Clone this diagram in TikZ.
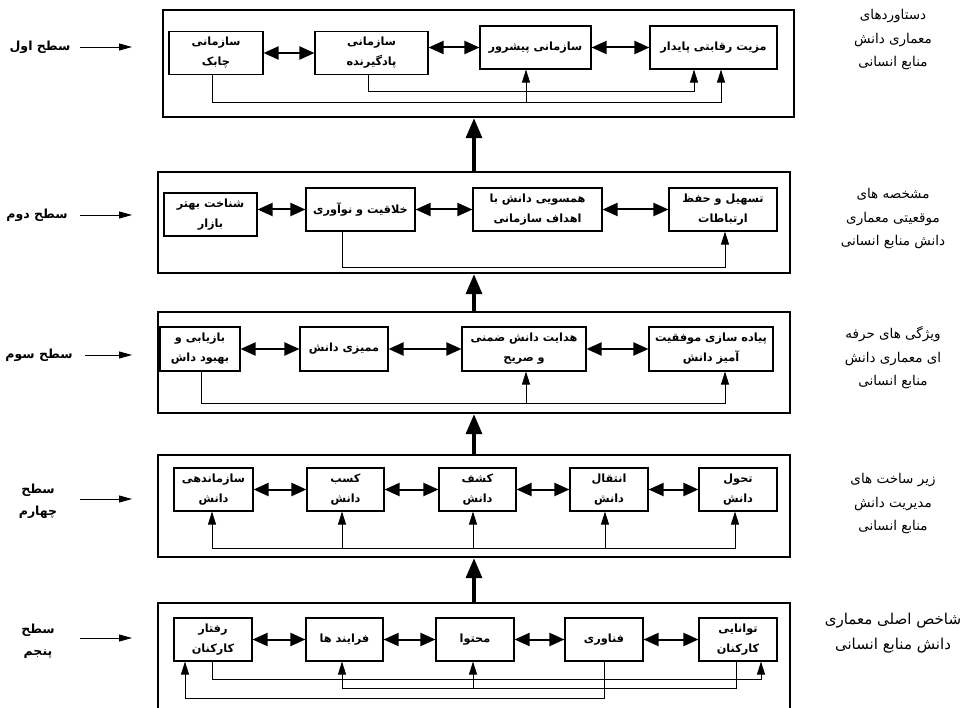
\documentclass[tikz,border=0pt]{standalone}
\usepackage{fontspec}
\newfontfamily\fafont[Script=Arabic]{DejaVu Sans}
\TeXXeTstate=1
\newcommand{\rl}[1]{\beginR #1\endR}
\usetikzlibrary{arrows.meta}

\begin{document}
\begin{tikzpicture}[
		x=1pt, y=-1pt,
		every node/.style={font=\fafont\fontsize{13.5}{23.5}\selectfont, align=center},
		box/.style={draw, line width=1.1pt, minimum height=43, inner sep=1pt, font=\fafont\bfseries\fontsize{11.3}{20}\selectfont},
		tier/.style={draw, line width=2.4pt, minimum width=632},
		tag/.style={font=\fafont\bfseries\fontsize{12.5}{22}\selectfont},
		link/.style={{Triangle[length=15pt,width=13pt]}-{Triangle[length=15pt,width=13pt]}, line width=2pt},
		feed/.style={-{Triangle[length=13pt,width=8pt]}, line width=0.8pt},
		lift/.style={-{Triangle[length=20pt,width=16pt]}, line width=3.5pt},
		side/.style={-{Triangle[length=13pt,width=7pt]}, line width=0.8pt}
		]
		\useasboundingbox (0,0) rectangle (976,708);
		
		% Level frames
		\node[tier, minimum width=631, minimum height=107] (tier1) at (478.5,63.5) {};
		\node[tier, minimum height=101] (tier2) at (474,222.5) {};
		\node[tier, minimum height=101] (tier3) at (474,362.5) {};
		\node[tier, minimum height=102] (tier4) at (474,506) {};
		\node[tier, minimum height=109] (tier5) at (474,657.5) {};
		
		% Level 1
		\node[box, minimum width=94] (agile) at (216,53) {\rl{سازمانی}\\\rl{چابک}};
		\node[box, minimum width=113] (learning) at (371.5,53) {\rl{سازمانی}\\\rl{پادگیرنده}};
		\node[box, minimum width=111] (pioneer) at (535.5,47.5) {\rl{سازمانی پیشرور}};
		\node[box, minimum width=127] (advantage) at (713.5,47.5) {\rl{مزیت رقابتی پایدار}};
		\draw[link] (agile) -- (learning);
		\draw[link] (pioneer.west -| learning.east) -- (pioneer.west);
		\draw[link] (pioneer) -- (advantage);
		\draw[feed] ([xshift=-4pt]agile.south) -- ++(0,27) -| ([xshift=7.5pt]advantage.south);
		\draw[feed] ([xshift=-9.5pt]pioneer.south) ++(0,33) -- ([xshift=-9.5pt]pioneer.south);
		\draw[feed] ([xshift=-3.5pt]learning.south) -- ++(0,16) -| ([xshift=-19.5pt]advantage.south);
		
		% Level 2
		\node[box, minimum width=93] (market) at (210.5,214.5) {\rl{شناخت بهتر}\\\rl{بازار}};
		\node[box, minimum width=109] (creativity) at (360.5,209.5) {\rl{خلاقیت و نوآوری}};
		\node[box, minimum width=129] (alignment) at (537.5,209.5) {\rl{همسویی دانش با}\\\rl{اهداف سازمانی}};
		\node[box, minimum width=108] (facilitation) at (723,209.5) {\rl{تسهیل و حفظ}\\\rl{ارتباطات}};
		\draw[link] (creativity.west -| market.east) -- (creativity.west);
		\draw[link] (creativity) -- (alignment);
		\draw[link] (alignment) -- (facilitation);
		\draw[feed] ([xshift=-18.5pt]creativity.south) -- ++(0,36) -| ([xshift=2pt]facilitation.south);
		
		% Level 3
		\node[box, minimum width=80, minimum height=44] (retrieval) at (200,349) {\rl{بازیابی و}\\\rl{بهبود داش}};
		\node[box, minimum width=88, minimum height=44] (audit) at (344,349) {\rl{ممیزی دانش}};
		\node[box, minimum width=124, minimum height=44] (guidance) at (524,349) {\rl{هدایت دانش ضمنی}\\\rl{و صریح}};
		\node[box, minimum width=124, minimum height=44] (implementation) at (711,349) {\rl{پیاده سازی موفقیت}\\\rl{آمیز دانش}};
		\draw[link] (retrieval) -- (audit);
		\draw[link] (audit) -- (guidance);
		\draw[link] (guidance) -- (implementation);
		\draw[feed] ([xshift=1pt]retrieval.south) -- ++(0,32) -| ([xshift=14pt]implementation.south);
		\draw[feed] ([xshift=2pt]guidance.south) ++(0,32) -- ([xshift=2pt]guidance.south);
		
		% Level 4
		\node[box, minimum width=79] (organize) at (213.5,489.5) {\rl{سازماندهی}\\\rl{دانش}};
		\node[box, minimum width=77] (acquire) at (345.5,489.5) {\rl{کسب}\\\rl{دانش}};
		\node[box, minimum width=77] (discover) at (477.5,489.5) {\rl{کشف}\\\rl{دانش}};
		\node[box, minimum width=78] (transfer) at (609,489.5) {\rl{انتقال}\\\rl{دانش}};
		\node[box, minimum width=78] (transform) at (738,489.5) {\rl{تحول}\\\rl{دانش}};
		\draw[link] (organize) -- (acquire);
		\draw[link] (acquire) -- (discover);
		\draw[link] (discover) -- (transfer);
		\draw[link] (transfer) -- (transform);
		\draw[feed] ([xshift=-3pt]transform.south) ++(0,37) -| ([xshift=-1.5pt]organize.south);
		\draw[feed] ([xshift=-3pt]transform.south) ++(0,37) -- ([xshift=-3pt]transform.south);
		\draw[feed] ([xshift=-3.5pt]acquire.south) ++(0,37) -- ([xshift=-3.5pt]acquire.south);
		\draw[feed] ([xshift=-4.5pt]discover.south) ++(0,37) -- ([xshift=-4.5pt]discover.south);
		\draw[feed] ([xshift=-4pt]transfer.south) ++(0,37) -- ([xshift=-4pt]transfer.south);
		
		% Level 5
		\node[box, minimum width=78] (behaviour) at (213,639.5) {\rl{رفتار}\\\rl{کارکنان}};
		\node[box, minimum width=77] (process) at (344.5,639.5) {\rl{فرایند ها}};
		\node[box, minimum width=78] (content) at (475,639.5) {\rl{محتوا}};
		\node[box, minimum width=78] (technology) at (604,639.5) {\rl{فناوری}};
		\node[box, minimum width=78] (ability) at (738,639.5) {\rl{توانایی}\\\rl{کارکنان}};
		\draw[link] (behaviour) -- (process);
		\draw[link] (process) -- (content);
		\draw[link] (content) -- (technology);
		\draw[link] (technology) -- (ability);
		\draw[feed] ([xshift=-1pt]behaviour.south) -- ++(0,18) -| ([xshift=23pt]ability.south);
		\draw[feed] ([xshift=-2pt]ability.south) -- ++(0,27) -| ([xshift=-2.5pt]process.south);
		\draw[feed] ([xshift=-2pt]content.south) ++(0,27) -- ([xshift=-2pt]content.south);
		\draw[feed] (technology.south) -- ++(0,37) -| ([xshift=-28pt]behaviour.south);
		
		% Between levels
		\draw[lift] (tier2.north) -- (tier2.north |- tier1.south);
		\draw[lift] (tier3.north) -- (tier3.north |- tier2.south);
		\draw[lift] (tier4.north) -- (tier4.north |- tier3.south);
		\draw[lift] (tier5.north) -- (tier5.north |- tier4.south);
		
		% Level names
		\node[tag] (name1) at (40,47) {\rl{سطح اول}};
		\node[tag] (name2) at (37,215) {\rl{سطح دوم}};
		\node[tag] (name3) at (39,355) {\rl{سطح سوم}};
		\node[tag] (name4) at (38,501) {\rl{سطح}\\\rl{چهارم}};
		\node[tag] (name5) at (38,641) {\rl{سطح}\\\rl{پنجم}};
		\coordinate (tip1) at (132,47);
		\coordinate (tip2) at (132,215);
		\coordinate (tip3) at (132,355);
		\coordinate (tip4) at (132,499);
		\coordinate (tip5) at (132,638);
		\draw[side] (tip1) ++(-52,0) -- (tip1);
		\draw[side] (tip2) ++(-52,0) -- (tip2);
		\draw[side] (tip3) ++(-47,0) -- (tip3);
		\draw[side] (tip4) ++(-52,0) -- (tip4);
		\draw[side] (tip5) ++(-52,0) -- (tip5);
		
		% Descriptions
		\node (desc1) at (893,40) {\rl{دستاوردهای}\\\rl{معماری دانش}\\\rl{منابع انسانی}};
		\node (desc2) at (893,219) {\rl{مشخصه های}\\\rl{موقعیتی معماری}\\\rl{دانش منابع انسانی}};
		\node (desc3) at (893,358) {\rl{ویژگی های حرفه}\\\rl{ای معماری دانش}\\\rl{منابع انسانی}};
		\node (desc4) at (893,504) {\rl{زیر ساخت های}\\\rl{مدیریت دانش}\\\rl{منابع انسانی}};
		\node[font=\fafont\fontsize{15}{25}\selectfont] (desc5) at (893,633) {\rl{شاخص اصلی معماری}\\\rl{دانش منابع انسانی}};
		
	\end{tikzpicture}
\end{document}
